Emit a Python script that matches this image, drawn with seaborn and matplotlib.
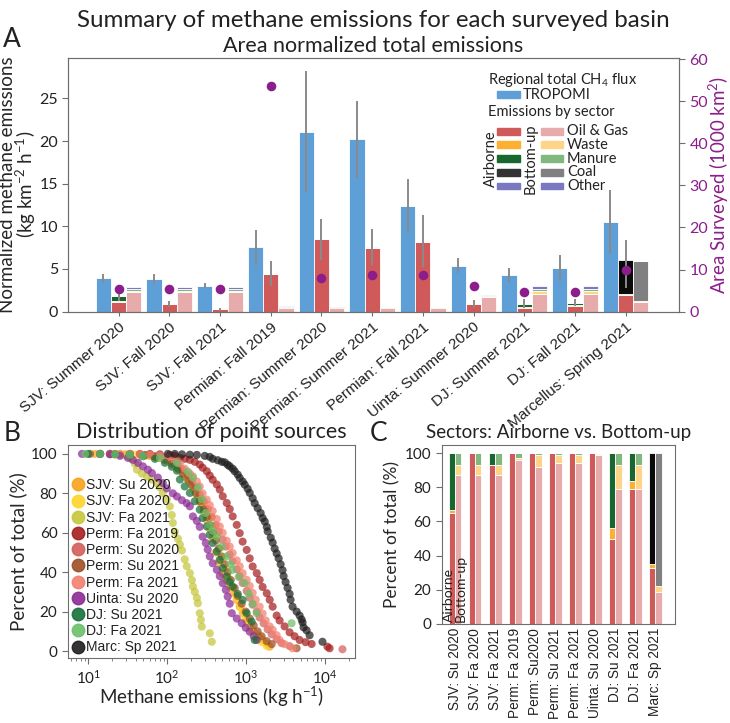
import numpy as np
import pandas as pd
import matplotlib
matplotlib.use("Agg")
import matplotlib.pyplot as plt
import matplotlib.transforms as mtransforms
from matplotlib.patches import Rectangle
from matplotlib.lines import Line2D
import seaborn as sns

# ---------------- data: panel A (kg km-2 h-1) ----------------
basins = ["SJV: Summer 2020", "SJV: Fall 2020", "SJV: Fall 2021", "Permian: Fall 2019",
          "Permian: Summer 2020", "Permian: Summer 2021", "Permian: Fall 2021",
          "Uinta: Summer 2020", "DJ: Summer 2021", "DJ: Fall 2021", "Marcellus: Spring 2021"]
tropomi = [3.9, 3.84, 3.06, 7.53, 21.1, 20.2, 12.4, 5.4, 4.3, 5.1, 10.5]
tropomi_err = [0.55, 0.6, 0.35, 2.05, 7.1, 4.5, 3.2, 0.85, 0.8, 1.55, 3.7]

air_oilgas = [1.17, 0.86, 0.25, 4.4, 8.5, 7.45, 8.2, 0.86, 0.45, 0.7, 2.0]
air_waste = [0.04, 0, 0, 0, 0, 0, 0, 0, 0.05, 0.06, 0.12]
air_manure = [0.59, 0, 0.02, 0, 0, 0, 0, 0, 0.4, 0.3, 0]
air_coal = [0, 0, 0, 0, 0, 0, 0, 0, 0, 0, 3.98]
air_err_lo = [0.5, 0.35, 0.2, 1.4, 2.5, 2.0, 3.0, 0.45, 0.5, 0.45, 3.3]
air_err_hi = [0.5, 0.35, 0.2, 1.5, 2.4, 2.2, 3.1, 0.55, 0.55, 0.45, 2.3]

bu_oilgas = [2.27, 2.27, 2.27, 0.45, 0.38, 0.45, 0.45, 1.76, 2.1, 2.1, 1.1]
bu_waste = [0.16, 0.16, 0.16, 0.02, 0.03, 0.03, 0.03, 0.02, 0.37, 0.37, 0.18]
bu_manure = [0.18, 0.18, 0.18, 0.02, 0.01, 0.01, 0.01, 0.0, 0.19, 0.19, 0.0]
bu_coal = [0, 0, 0, 0, 0, 0, 0, 0, 0, 0, 4.6]
bu_other = [0.25, 0.25, 0.25, 0.15, 0.12, 0.1, 0.1, 0.12, 0.35, 0.35, 0.05]

area_surveyed = [5.3, 5.3, 5.3, 53.7, 8.1, 8.6, 8.6, 6.0, 4.7, 4.7, 10.0]  # 1000 km2

# ---------------- data: panel B (emission kg/h, percent of total) ----------------
sjv_su20 = [(12.2, 100), (18.8, 100), (29.2, 99.8), (45.1, 99.5), (60.4, 99), (80.8, 98), (99, 96.5),
            (125, 94.5), (145, 92.5), (167, 90), (194, 86.5), (217, 83), (245, 79), (267, 75), (291, 71),
            (318, 66.5), (347, 62), (378, 57), (414, 50), (451, 45), (507, 39.5), (554, 36), (622, 32.7),
            (678, 29.5), (763, 25.9), (832, 22.5), (907, 19.2), (1020, 15.5), (1115, 13), (1215, 10.7),
            (1370, 8.5), (1490, 7), (1625, 5.6), (1835, 3.8), (2000, 2.2)]
sjv_fa20 = [(14.1, 100), (25.2, 100), (39, 99.7), (57, 99), (76.2, 98), (96.5, 96.5), (118, 94.5),
            (141, 92), (162, 89), (188, 86), (217, 82), (259, 78), (291, 75), (327, 71.5), (357, 68),
            (390, 63), (426, 58), (465, 52), (507, 47), (554, 42), (604, 37), (678, 32), (763, 27),
            (857, 22), (963, 17.5), (1082, 13.5), (1215, 10), (1370, 7), (1580, 4.5), (1835, 2.5)]
sjv_fa21 = [(18.8, 100), (25.2, 99.7), (30.1, 99), (34.7, 97.5), (39, 95), (41.4, 92), (47.8, 90),
            (55.4, 88.6), (64, 87), (74.1, 85.2), (80.8, 83), (88, 80.2), (99.1, 77), (108, 73.4),
            (114.5, 69), (118, 65), (125, 60.5), (137, 57), (145, 54), (154, 51), (167, 46.5), (177, 43),
            (194, 39.5), (206, 36), (212, 32.7), (224, 30), (238, 27), (245, 24.2), (259, 19.2),
            (268, 15.8), (275, 12.4), (347, 9), (368, 4.7)]
perm_fa19 = [(33.7, 100), (45.1, 100), (60.4, 100), (80.8, 99.8), (108, 99.5), (125, 99), (145, 98),
             (167, 97.5), (194, 97), (224, 96), (259, 94.6), (282, 93), (318, 91.2), (347, 89),
             (378, 86.9), (426, 84.5), (465, 81.9), (507, 78.5), (570, 75.1), (622, 72), (678, 68.3),
             (763, 64), (832, 59.8), (907, 55.5), (1020, 51.3), (1115, 47), (1215, 42.9), (1370, 39.5),
             (1490, 36.1), (1625, 32.5), (1835, 29.3), (2000, 26), (2180, 22.5), (2450, 18),
             (2670, 15.5), (3090, 12.5), (3575, 9.5), (4140, 7.5), (4790, 5.6), (5710, 4.5),
             (6800, 3.6), (10800, 2.2), (11500, 1.4)]
perm_su20 = [(14.1, 100), (21.8, 100), (33.7, 99.8), (52.2, 99.5), (69.9, 99), (93.5, 98), (114.5, 96.5),
             (137, 94.5), (157.5, 92), (183, 89), (206, 86), (231, 83), (259, 79.5), (291, 76), (327, 72),
             (368, 68), (414, 64), (451, 60.5), (507, 56.5), (554, 53), (622, 49), (678, 45.5),
             (763, 41.5), (832, 38), (907, 34.5), (1020, 30.5), (1115, 27), (1215, 23.5), (1370, 20),
             (1490, 17), (1675, 14), (1885, 11), (2120, 8.5), (2450, 6), (2830, 4), (3575, 2.5),
             (16750, 0.9)]
perm_su21 = [(10.5, 100), (18.8, 100), (33.7, 99.8), (52.2, 99.3), (69.9, 98.5), (93.5, 97), (114.5, 95),
             (137, 92.5), (157.5, 90), (183, 87), (206, 84), (231, 80), (259, 76), (291, 72), (318, 68),
             (347, 64), (378, 60), (414, 56), (451, 52), (493, 48), (538, 44), (586, 40), (641, 36),
             (720, 32), (785, 28), (882, 24), (992, 20), (1115, 16.5), (1253, 13), (1405, 10),
             (1580, 7.5), (1835, 5), (2120, 3.5), (4390, 1.4)]
perm_fa21 = [(18.8, 100), (25.2, 100), (33.7, 100), (45.1, 99.8), (60.4, 99.5), (80.8, 99), (99, 98),
             (125, 96.5), (145, 95), (167, 92.5), (194, 90), (212, 88.6), (238, 86), (259, 83.5),
             (282, 80), (318, 76.8), (347, 74), (378, 71), (426, 67), (465, 63.2), (507, 60), (570, 56),
             (622, 53), (678, 49.7), (763, 46), (832, 43), (907, 39.5), (1020, 36.1), (1115, 33),
             (1215, 29.5), (1330, 26), (1490, 22.5), (1625, 19), (1780, 15.5), (2000, 12.5),
             (2180, 10.7), (2450, 8), (2670, 5.6), (3090, 3.5), (3900, 1.4)]
uinta_su20 = [(8.3, 100), (14.1, 100), (18.8, 99.8), (25.2, 99), (31.8, 98), (36.7, 97), (42.5, 95.5),
              (49.2, 93.7), (57, 92), (64, 90.3), (76.2, 88), (88, 85.2), (99, 82.5), (118, 80),
              (133, 78.4), (154, 76.5), (177, 75), (194, 73.4), (212, 68.3), (238, 66), (259, 63),
              (282, 58), (309, 54.8), (327, 51.5), (347, 48), (378, 44.5), (426, 41.2), (465, 38),
              (507, 34.4), (554, 31), (586, 27.6), (622, 24), (660, 19.2), (763, 16.5), (882, 14.1),
              (992, 11.8), (1115, 9.8), (1253, 7.5), (1370, 5.6)]
dj_su21 = [(9.9, 100), (14.1, 100), (21.8, 99.8), (33.7, 99.5), (49.2, 98.8), (69.9, 97.5), (93.5, 95.5),
           (114.5, 93.5), (133, 91.5), (145, 87), (167, 83.5), (194, 80.2), (224, 76), (259, 71.7),
           (282, 67.5), (318, 63.2), (347, 59), (378, 54.8), (426, 50.5), (465, 46.3), (507, 42),
           (570, 37.8), (622, 35), (678, 32.7), (785, 29), (907, 25.9), (1020, 19.2), (1180, 14.9),
           (1290, 5.6)]
dj_fa21 = [(9.1, 100), (14.1, 100), (21.8, 99.8), (33.7, 99.5), (49.2, 99), (80.8, 98), (133, 95.5),
           (183, 91), (212, 88), (245, 83), (275, 77), (309, 70), (347, 64), (378, 61), (426, 58),
           (493, 53), (570, 48), (641, 44), (678, 41.2), (808, 37.5), (963, 34.4), (1082, 29),
           (1215, 24), (1370, 19.2), (3790, 14.1)]
marc_sp21 = [(102, 100), (125, 100), (154, 99.8), (194, 99.6), (238, 99.5), (300, 99), (347, 98.5),
             (378, 97.5), (438, 96.8), (493, 96), (538, 95.7), (586, 94.5), (622, 93.7), (678, 92.5),
             (720, 91.2), (785, 89.5), (832, 87.8), (907, 86), (963, 84.4), (1050, 82.3), (1115, 80.2),
             (1215, 77.5), (1290, 75), (1405, 72.5), (1535, 70), (1625, 67.5), (1730, 65.7), (1835, 63),
             (1885, 60.7), (2060, 57.5), (2180, 55), (2310, 52), (2450, 49.5), (2595, 47), (2750, 44),
             (2910, 41), (3000, 38), (3180, 35), (3370, 32), (3575, 29), (3680, 26), (3900, 22.5),
             (4390, 20), (4790, 18), (5080, 16), (5220, 14.5), (5380, 12), (5870, 10.5), (6410, 8),
             (9340, 4.7)]

surveys = ["SJV: Su 2020", "SJV: Fa 2020", "SJV: Fa 2021", "Perm: Fa 2019", "Perm: Su 2020",
           "Perm: Su 2021", "Perm: Fa 2021", "Uinta: Su 2020", "DJ: Su 2021", "DJ: Fa 2021",
           "Marc: Sp 2021"]
survey_points = [sjv_su20, sjv_fa20, sjv_fa21, perm_fa19, perm_su20, perm_su21, perm_fa21,
                 uinta_su20, dj_su21, dj_fa21, marc_sp21]
survey_colors = ["#f7a21b", "#fdd52a", "#c6c73a", "#a61e1e", "#d25f5c", "#9c4f27", "#f2806f",
                 "#8c2a95", "#18703a", "#6cc06a", "#1e1e1e"]

# ---------------- data: panel C (% of total) ----------------
short_names = ["SJV: Su 2020", "SJV: Fa 2020", "SJV: Fa 2021", "Perm: Fa 2019", "Perm: Su2020",
               "Perm: Su 2021", "Perm: Fa 2021", "Uinta: Su 2020", "DJ: Su 2021", "DJ: Fa 2021",
               "Marc: Sp 2021"]
c_air_oilgas = [65, 100, 93, 100, 100, 100, 100, 100, 50, 79, 33]
c_air_waste = [2, 0, 0, 0, 0, 0, 0, 0, 6, 5, 2]
c_air_manure = [33, 0, 7, 0, 0, 0, 0, 0, 44, 16, 0]
c_air_coal = [0, 0, 0, 0, 0, 0, 0, 0, 0, 0, 65]
c_bu_oilgas = [87, 87, 87, 96, 92, 94, 94, 99, 79, 79, 19]
c_bu_waste = [6, 6, 6, 1, 7, 5, 5, 0.5, 14, 14, 3]
c_bu_manure = [7, 7, 7, 3, 1, 1, 1, 0.5, 7, 7, 0]
c_bu_coal = [0, 0, 0, 0, 0, 0, 0, 0, 0, 0, 78]

# ---------------- colours ----------------
BLUE = "#5f9fd8"
ERR = "#8a8a8a"
PURPLE = "#8b1e8b"
SPINE = "#6e6e6e"
air_cols = ["#d05a5a", "#fbb031", "#17672f", "#0a0a0a", "#7b78c2"]
bu_cols = ["#e8abab", "#fdd488", "#80b880", "#808080", "#7b78c2"]

sns.set_style("ticks")
plt.rcParams["font.family"] = ["Lato", "DejaVu Sans"]
plt.rcParams["mathtext.fontset"] = "custom"
plt.rcParams["mathtext.rm"] = "Lato"
plt.rcParams["mathtext.it"] = "Lato:italic"
plt.rcParams["mathtext.bf"] = "Lato:bold"
plt.rcParams["axes.edgecolor"] = SPINE
plt.rcParams["xtick.color"] = SPINE
plt.rcParams["ytick.color"] = SPINE
plt.rcParams["xtick.labelcolor"] = "#222222"
plt.rcParams["ytick.labelcolor"] = "#222222"
plt.rcParams["text.color"] = "#222222"


def stack(ax, xpos, layers, colors, width):
    bottom = np.zeros(len(xpos))
    for vals, col in zip(layers, colors):
        vals = np.asarray(vals, dtype=float)
        ax.bar(xpos, vals, width, bottom=bottom, color=col, edgecolor="white",
               linewidth=0.6, zorder=2)
        bottom = bottom + vals
    return bottom


fig = plt.figure(figsize=(7.3, 7.23), dpi=100)
fig.text(0.512, 0.972, "Summary of methane emissions for each surveyed basin",
         ha="center", va="center", fontsize=17.4)
fig.text(0.016, 0.945, "A", ha="center", va="center", fontsize=19)
fig.text(0.016, 0.400, "B", ha="center", va="center", fontsize=19)
fig.text(0.518, 0.400, "C", ha="center", va="center", fontsize=19)

# ================= panel A =================
axA = fig.add_axes([0.093, 0.569, 0.837, 0.351])
x = np.arange(len(basins))
w = 0.3
axA.bar(x - w, tropomi, w, color=BLUE, edgecolor="white", linewidth=0.6, zorder=2)
axA.errorbar(x - w, tropomi, yerr=tropomi_err, fmt="none", ecolor=ERR, elinewidth=1.4,
             capsize=0, zorder=3)
air_top = stack(axA, x, [air_oilgas, air_waste, air_manure, air_coal], air_cols[:4], w)
axA.errorbar(x, air_top, yerr=[air_err_lo, air_err_hi], fmt="none", ecolor=ERR,
             elinewidth=1.4, capsize=0, zorder=3)
stack(axA, x + w, [bu_oilgas, bu_waste, bu_manure, bu_coal, bu_other], bu_cols, w)

axA.set_xlim(-1.0, 11.05)
axA.set_ylim(0, 29.75)
axA.set_yticks([0, 5, 10, 15, 20, 25])
axA.set_xticks(x)
axA.set_xticklabels(basins, rotation=40, ha="right", va="top", rotation_mode="anchor",
                    fontsize=11, family="Liberation Sans")
shift = mtransforms.ScaledTranslation(4 / 72, -3 / 72, fig.dpi_scale_trans)
for lab in axA.get_xticklabels():
    lab.set_transform(lab.get_transform() + shift)
axA.tick_params(axis="y", labelsize=11.5, length=4, pad=3)
axA.tick_params(axis="x", length=3, pad=3)
axA.set_ylabel("Normalized methane emissions\n(kg km$^{-2}$ h$^{-1}$)", fontsize=13.5,
               linespacing=0.9)
axA.yaxis.set_label_coords(-0.049, 0.5)
axA.set_title("Area normalized total emissions", fontsize=15.5, pad=4)

ax2 = axA.twinx()
sns.scatterplot(x=x, y=area_surveyed, color=PURPLE, s=48, linewidth=0, ax=ax2, zorder=5)
ax2.set_ylim(0, 60.3)
ax2.set_yticks([0, 10, 20, 30, 40, 50, 60])
ax2.tick_params(axis="y", labelsize=11.5, labelcolor=PURPLE, length=4)
ax2.set_ylabel("Area Surveyed (1000 km$^{2}$)", color=PURPLE, fontsize=13.5)
ax2.yaxis.set_label_coords(1.046, 0.5)
for sp in ax2.spines.values():
    sp.set_color(SPINE)

# custom legend (axes fraction)
tr = ax2.transAxes
ph = 0.027
ax2.text(0.687, 0.913, "Regional total CH$_4$ flux", transform=tr, fontsize=10.5,
         va="center", ha="left")
ax2.add_patch(Rectangle((0.702, 0.854 - ph / 2), 0.038, ph, transform=tr, color=BLUE,
                        clip_on=False, zorder=6))
ax2.text(0.745, 0.854, "TROPOMI", transform=tr, fontsize=10.5, va="center", ha="left")
ax2.text(0.687, 0.787, "Emissions by sector", transform=tr, fontsize=10.5, va="center",
         ha="left")
sector_names = ["Oil & Gas", "Waste", "Manure", "Coal", "Other"]
row_y = [0.711, 0.657, 0.603, 0.549, 0.495]
for name, yy, ca, cb in zip(sector_names, row_y, air_cols, bu_cols):
    ca = "#333333" if ca == "#0a0a0a" else ca
    ax2.add_patch(Rectangle((0.702, yy - ph / 2), 0.038, ph, transform=tr, color=ca,
                            clip_on=False, zorder=6))
    ax2.add_patch(Rectangle((0.774, yy - ph / 2), 0.037, ph, transform=tr, color=cb,
                            clip_on=False, zorder=6))
    ax2.text(0.817, yy, name, transform=tr, fontsize=10.5, va="center", ha="left")
ax2.text(0.692, 0.603, "Airborne", transform=tr, rotation=90, fontsize=10.5, va="center",
         ha="center")
ax2.text(0.758, 0.603, "Bottom-up", transform=tr, rotation=90, fontsize=10.5, va="center",
         ha="center")

# ================= panel B =================
axB = fig.add_axes([0.093, 0.090, 0.393, 0.295])
rows = []
for name, pts in zip(surveys, survey_points):
    for e, p in pts:
        rows.append((name, e, p))
dfB = pd.DataFrame(rows, columns=["survey", "emission", "percent"])
sns.scatterplot(data=dfB, x="emission", y="percent", hue="survey", hue_order=surveys,
                palette=dict(zip(surveys, survey_colors)), s=34, alpha=0.72, linewidth=0,
                legend=False, ax=axB)
axB.set_xscale("log")
axB.set_xlim(5.5, 24000)
axB.set_ylim(-3.5, 104.7)
axB.set_yticks([0, 20, 40, 60, 80, 100])
axB.tick_params(labelsize=11, length=4)
axB.set_xlabel("Methane emissions (kg h$^{-1}$)", fontsize=13.5, labelpad=-1)
axB.set_ylabel("Percent of total (%)", fontsize=13.5, labelpad=3)
axB.set_title("Distribution of point sources", fontsize=15.5, pad=5)
handles = [Line2D([], [], marker="o", ls="", color=c, markersize=9, alpha=0.9)
           for c in survey_colors]
axB.legend(handles, surveys, loc="lower left", frameon=False, borderpad=0.1,
           borderaxespad=0.15, handletextpad=0.05, handlelength=1.0, labelspacing=0.16,
           prop={"family": "Liberation Sans", "size": 10})

# ================= panel C =================
axC = fig.add_axes([0.605, 0.137, 0.320, 0.248])
wc = 0.32
stack(axC, x - wc / 2, [c_air_oilgas, c_air_waste, c_air_manure, c_air_coal], air_cols[:4], wc)
stack(axC, x + wc / 2, [c_bu_oilgas, c_bu_waste, c_bu_manure, c_bu_coal], bu_cols[:4], wc)
axC.set_xlim(-0.67, 11.0)
axC.set_ylim(0, 105)
axC.set_yticks([0, 20, 40, 60, 80, 100])
axC.set_xticks(x)
axC.set_xticklabels(short_names, rotation=90, fontsize=9.8, family="Liberation Sans")
axC.tick_params(axis="y", labelsize=11, length=4)
axC.tick_params(axis="x", length=0, pad=3)
axC.set_ylabel("Percent of total (%)", fontsize=12.5, labelpad=3)
axC.set_title("Sectors: Airborne vs. Bottom-up", fontsize=13.5, pad=5)
axC.text(-0.3, 1.2, "Airborne", rotation=90, ha="center", va="bottom", fontsize=10, zorder=5)
axC.text(0.28, 1.2, "Bottom-up", rotation=90, ha="center", va="bottom", fontsize=10, zorder=5)

fig.savefig("out.png", dpi=100)
